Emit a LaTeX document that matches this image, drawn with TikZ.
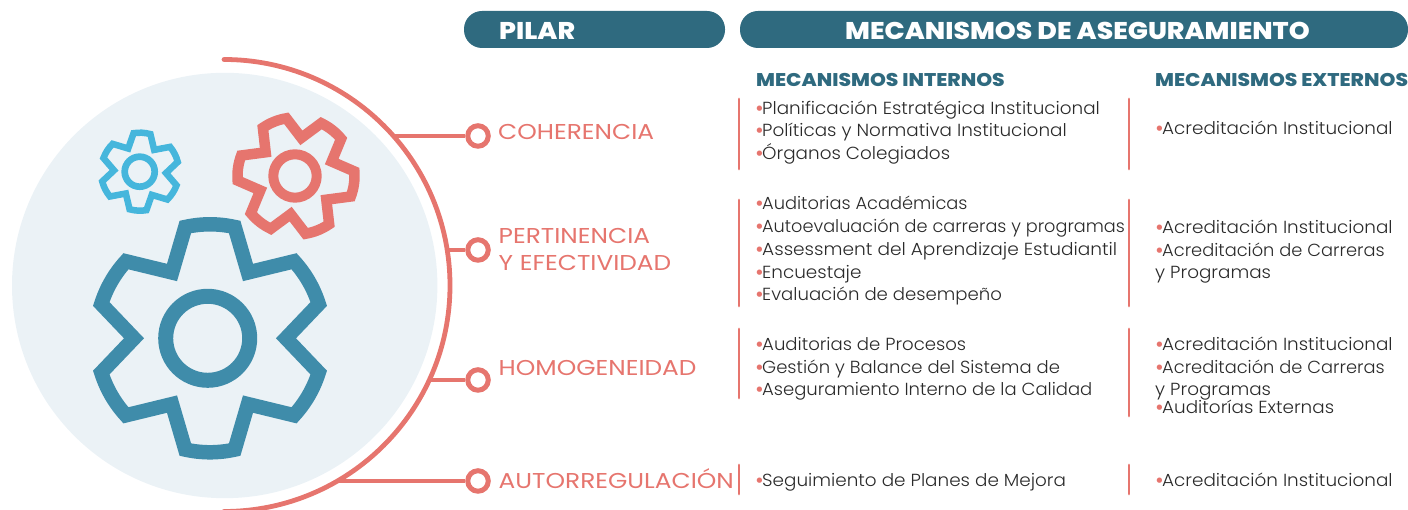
\documentclass[tikz,border=0pt]{standalone}
\usepackage{fontspec}
\setmainfont{Poppins}[UprightFont=* Light,BoldFont=* Bold]
\newfontfamily\itemfont{Poppins Light}[FakeStretch=1.05]
\newfontfamily\pillarfont{Poppins}[FakeStretch=1.155]
\newfontfamily\headfont{Poppins ExtraBold}[FakeStretch=1.1]
\definecolor{coral}{HTML}{E6756E}
\definecolor{teal}{HTML}{2F6A7F}
\definecolor{gearblue}{HTML}{3F8CAA}
\definecolor{sky}{HTML}{45B6DC}
\definecolor{pale}{HTML}{EBF2F6}
\definecolor{ink}{HTML}{2A2A2A}
\tikzset{
 pill/.style={fill=teal,rounded corners=18pt},
 headtxt/.style={text=white,font=\headfont\fontsize{24.2}{24}\selectfont,inner sep=0pt,anchor=base west},
 subhead/.style={text=teal,font=\headfont\fontsize{18.4}{18.5}\selectfont,inner sep=0pt,anchor=base west},
 pillar/.style={text=coral,font=\pillarfont\fontsize{21.5}{26}\selectfont,inner sep=0pt,anchor=base west,align=left},
 item/.style={text=ink,font=\itemfont\fontsize{17.5}{22}\selectfont,inner sep=0pt,anchor=base west},
 bar/.style={draw=coral,line width=2.8pt,line cap=round},
 link/.style={draw=coral,line width=4pt},
 dot/.style={circle,draw=coral,line width=5pt,fill=white,minimum size=20.5pt,inner sep=0pt},
}
\newcommand{\bul}{\makebox[7pt][l]{\textcolor{coral}{\fontspec{Poppins Bold}•}}}
\newcommand{\sx}[2]{\scalebox{#1}[1]{#2}}
% #1 cx #2 cy(px from top) #3 rot #4 R #5 r #6 stroke #7 colour
\newcommand{\gearshape}[7]{%
 \begin{scope}[shift={(#1,510-#2)},rotate=#3]
 \draw[#7,line width=#6pt,miter limit=10]
 (0:#5) -- (17.5:#4) arc[start angle=17.5,end angle=42.5,radius=#4]
 -- (60:#5) -- (77.5:#4) arc[start angle=77.5,end angle=102.5,radius=#4]
 -- (120:#5) -- (137.5:#4) arc[start angle=137.5,end angle=162.5,radius=#4]
 -- (180:#5) -- (197.5:#4) arc[start angle=197.5,end angle=222.5,radius=#4]
 -- (240:#5) -- (257.5:#4) arc[start angle=257.5,end angle=282.5,radius=#4]
 -- (300:#5) -- (317.5:#4) arc[start angle=317.5,end angle=342.5,radius=#4]
 -- cycle;
 \end{scope}}
\begin{document}
\begin{tikzpicture}[x=1pt,y=1pt]
\useasboundingbox (0,0) rectangle (1408,510);
% disc, arc
\fill[pale] (224.7,224.5) circle[radius=212.7];
\begin{scope}
\clip (0,0) rectangle (1408,510);
\draw[coral,line width=4.8pt,line cap=round] (224,450.5) arc[start angle=90,end angle=-90,radius=226];
\end{scope}
% gears
\gearshape{210}{338.3}{0}{114}{76}{14.5}{gearblue}
\draw[gearblue,line width=15pt] (207.7,171.7) circle[radius=42];
\gearshape{296}{176}{22}{58.5}{38.5}{10.5}{coral}
\draw[coral,line width=10pt] (295,334) circle[radius=21.7];
\gearshape{140}{171.7}{-3}{39}{26}{6.5}{sky}
\draw[sky,line width=6.7pt] (139.7,338.3) circle[radius=15];
% headers
\path[pill] (464,462) rectangle (725,499);
\path[pill] (740,462) rectangle (1408,499);
\node[headtxt] (hp) at (499,470.5) {PILAR};
\node[headtxt] (hm) at (845,470.5) {MECANISMOS DE ASEGURAMIENTO};
\node[subhead] (si) at (756,423) {MECANISMOS INTERNOS};
\node[subhead] (se) at (1155,423) {MECANISMOS EXTERNOS};
% connectors
\coordinate (a1) at (395,374);
\coordinate (a2) at (449,260);
\coordinate (a3) at (430,130);
\coordinate (a4) at (336,29);
\node[dot] (d1) at (478,374) {};
\node[dot] (d2) at (478,260) {};
\node[dot] (d3) at (478,130) {};
\node[dot] (d4) at (478,29) {};
\draw[link] (a1) -- (d1);
\draw[link] (a2) -- (d2);
\draw[link] (a3) -- (d3);
\draw[link] (a4) -- (d4);
% pillars
\node[pillar] (p1) at (498,370) {COHERENCIA};
\node[pillar] (p2) at (498.5,266) {PERTINENCIA};
\node[pillar] (p2b) at (498.5,239) {Y EFECTIVIDAD};
\node[pillar] (p3) at (498.5,134) {HOMOGENEIDAD};
\node[pillar] (p4) at (498.5,21.5) {AUTORREGULACIÓN};
% bars
\coordinate (b1t) at (739,411); \coordinate (b1b) at (739,341);
\coordinate (c1t) at (1129,411); \coordinate (c1b) at (1129,341);
\coordinate (b2t) at (739,310); \coordinate (b2b) at (739,204);
\coordinate (c2t) at (1129,310); \coordinate (c2b) at (1129,204);
\coordinate (b3t) at (739,181); \coordinate (b3b) at (739,112);
\coordinate (c3t) at (1129,181); \coordinate (c3b) at (1129,94);
\coordinate (b4t) at (739,45); \coordinate (b4b) at (739,16);
\coordinate (c4t) at (1129,45); \coordinate (c4b) at (1129,16);
\foreach \p/\q in {b1t/b1b,c1t/c1b,b2t/b2b,c2t/c2b,b3t/b3b,c3t/c3b,b4t/b4b,c4t/c4b}{\draw[bar] (\p) -- (\q);}
% internal
\node[item] (i1) at (755,395.5) {\bul Planificación Estratégica Institucional};
\node[item] (i2) at (755,373.5) {\bul Políticas y Normativa Institucional};
\node[item] (i3) at (755,350.5) {\bul Órganos Colegiados};
\node[item] (i4) at (755,300.5) {\bul \sx{.97}{Auditorias Académicas}};
\node[item] (i5) at (755,277.5) {\bul \sx{.963}{Autoevaluación de carreras y programas}};
\node[item] (i6) at (755,254.5) {\bul \sx{1.009}{Assessment del Aprendizaje Estudiantil}};
\node[item] (i7) at (755,231.5) {\bul Encuestaje};
\node[item] (i8) at (755,209.5) {\bul \sx{.985}{Evaluación de desempeño}};
\node[item] (i9) at (755,159.5) {\bul \sx{.985}{Auditorias de Procesos}};
\node[item] (i10) at (755,136.5) {\bul \sx{.98}{Gestión y Balance del Sistema de}};
\node[item] (i11) at (755,114.5) {\bul \sx{.98}{Aseguramiento Interno de la Calidad}};
\node[item] (i12) at (755,23.5) {\bul Seguimiento de Planes de Mejora};
% external
\node[item] (e1) at (1155,375) {\bul Acreditación Institucional};
\node[item] (e2) at (1155,276.5) {\bul Acreditación Institucional};
\node[item] (e3) at (1155,253.5) {\bul \sx{.97}{Acreditación de Carreras}};
\node[item] (e3b) at (1155,231.5) {y Programas};
\node[item] (e4) at (1155,159.5) {\bul Acreditación Institucional};
\node[item] (e5) at (1155,136.5) {\bul \sx{.97}{Acreditación de Carreras}};
\node[item] (e5b) at (1155,114.5) {y Programas};
\node[item] (e6) at (1155,96.5) {\bul Auditorías Externas};
\node[item] (e7) at (1155,23.5) {\bul Acreditación Institucional};
\end{tikzpicture}
\end{document}
